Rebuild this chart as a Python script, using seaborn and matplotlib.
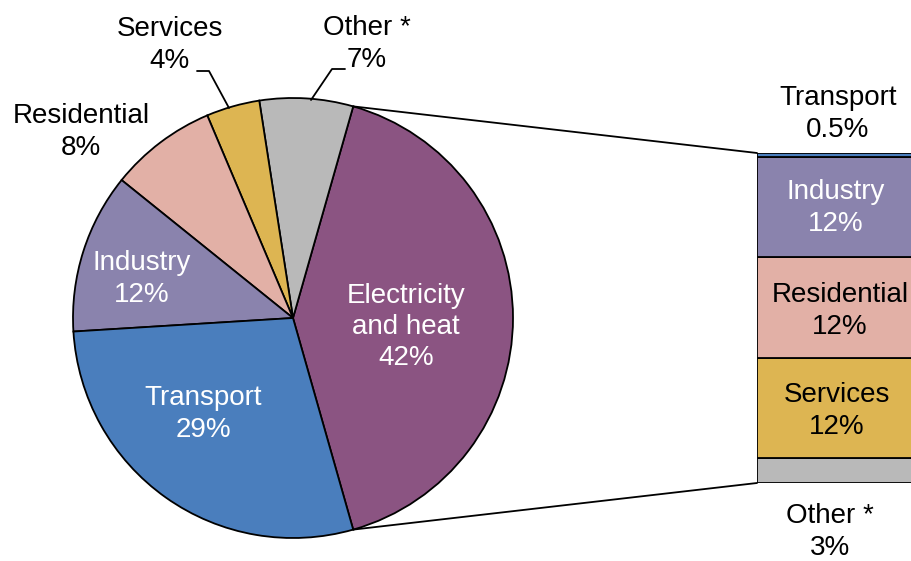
import matplotlib
matplotlib.use("Agg")
import matplotlib.pyplot as plt
import seaborn as sns
from matplotlib.patches import ConnectionPatch
import numpy as np

sns.set_theme(style="white")
plt.rcParams['font.family'] = ['Liberation Sans', 'DejaVu Sans']

# Pie data (counter-clockwise from the right)
pie_labels = ["Electricity\nand heat", "Other *", "Services", "Residential", "Industry", "Transport"]
pie_values = [42, 7, 4, 8, 12, 29]
pie_colors = ["#8b5482", "#b9b9b9", "#ddb552", "#e2b0a6", "#8a83ad", "#4a7ebd"]

# Breakdown of electricity and heat (bottom to top)
bar_labels = ["Other *", "Services", "Residential", "Industry", "Transport"]
bar_values = [3, 12, 12, 12, 0.5]
bar_colors = ["#b9b9b9", "#ddb552", "#e2b0a6", "#8a83ad", "#4a7ebd"]

W, H = 911, 561
fig = plt.figure(figsize=(W / 100, H / 100), dpi=100)

# Pie axes
cx, cy, r = 293, 318, 220
ax_pie = fig.add_axes([(cx - r) / W, (H - cy - r) / H, 2 * r / W, 2 * r / H])
start = -pie_values[0] / sum(pie_values) * 180
wedges, _ = ax_pie.pie(pie_values, colors=pie_colors, startangle=start, radius=1,
                       wedgeprops=dict(edgecolor="black", linewidth=1.3))
ax_pie.set_xlim(-1, 1)
ax_pie.set_ylim(-1, 1)
ax_pie.set_aspect("equal")
ax_pie.axis("off")

def px(x, y):
    """Convert image pixel coords to pie data coords."""
    return ((x - cx) / r, (cy - y) / r)

fs = 20
ls = 1.27
# inside labels
ax_pie.text(*px(406, 327), "Electricity\nand heat\n42%", color="white", fontsize=fs,
            ha="center", va="center", linespacing=ls)
ax_pie.text(*px(203, 414), "Transport\n29%", color="white", fontsize=fs,
            ha="center", va="center", linespacing=ls)
ax_pie.text(*px(142, 279), "Industry\n12%", color="white", fontsize=fs,
            ha="center", va="center", linespacing=ls)
# outside labels
ax_pie.text(*px(81, 132), "Residential\n8%", color="black", fontsize=fs,
            ha="center", va="center", linespacing=ls)
ax_pie.text(*px(170, 45), "Services\n4%", color="black", fontsize=fs,
            ha="center", va="center", linespacing=ls, clip_on=False)
ax_pie.text(*px(367, 44), "Other *\n7%", color="black", fontsize=fs,
            ha="center", va="center", linespacing=ls, clip_on=False)
# leader lines
for pts in ([(197, 71), (209, 71), (229, 108)], [(345, 69), (332, 69), (311, 100)]):
    xs, ys = zip(*[px(*p) for p in pts])
    ax_pie.plot(xs, ys, color="black", lw=1.3, clip_on=False)

# Bar axes
bx0, bx1, by_top, by_bot = 757, 915, 153, 483
ax_bar = fig.add_axes([bx0 / W, (H - by_bot) / H, (bx1 - bx0) / W, (by_bot - by_top) / H])
bottom = 0
for lab, v, c in zip(bar_labels, bar_values, bar_colors):
    ax_bar.bar(0, v, bottom=bottom, width=1, color=c, edgecolor="black", linewidth=1.3)
    bottom += v
ax_bar.set_xlim(-0.5, 0.5)
ax_bar.set_ylim(0, sum(bar_values))
ax_bar.axis("off")

tot = sum(bar_values)
def bpy(y):
    return (by_bot - y) / (by_bot - by_top) * tot
def bpx(x):
    return (x - bx0) / (bx1 - bx0) - 0.5

ax_bar.text(bpx(836), bpy(208), "Industry\n12%", color="white", fontsize=fs,
            ha="center", va="center", linespacing=ls, clip_on=False)
ax_bar.text(bpx(840), bpy(311), "Residential\n12%", color="black", fontsize=fs,
            ha="center", va="center", linespacing=ls, clip_on=False)
ax_bar.text(bpx(837), bpy(411), "Services\n12%", color="black", fontsize=fs,
            ha="center", va="center", linespacing=ls, clip_on=False)
ax_bar.text(bpx(838), bpy(114), "Transport\n0.5%", color="black", fontsize=fs,
            ha="center", va="center", linespacing=ls, clip_on=False)
ax_bar.text(bpx(830), bpy(532), "Other *\n3%", color="black", fontsize=fs,
            ha="center", va="center", linespacing=ls, clip_on=False)

# connection lines
theta1 = np.deg2rad(wedges[0].theta1)
theta2 = np.deg2rad(wedges[0].theta2)
con_top = ConnectionPatch(xyA=(np.cos(theta2), np.sin(theta2)), coordsA=ax_pie.transData,
                          xyB=(-0.5, tot), coordsB=ax_bar.transData, color="black", lw=1.3)
con_bot = ConnectionPatch(xyA=(np.cos(theta1), np.sin(theta1)), coordsA=ax_pie.transData,
                          xyB=(-0.5, 0), coordsB=ax_bar.transData, color="black", lw=1.3)
fig.add_artist(con_top)
fig.add_artist(con_bot)

fig.savefig("out.png", dpi=100, facecolor="white")
